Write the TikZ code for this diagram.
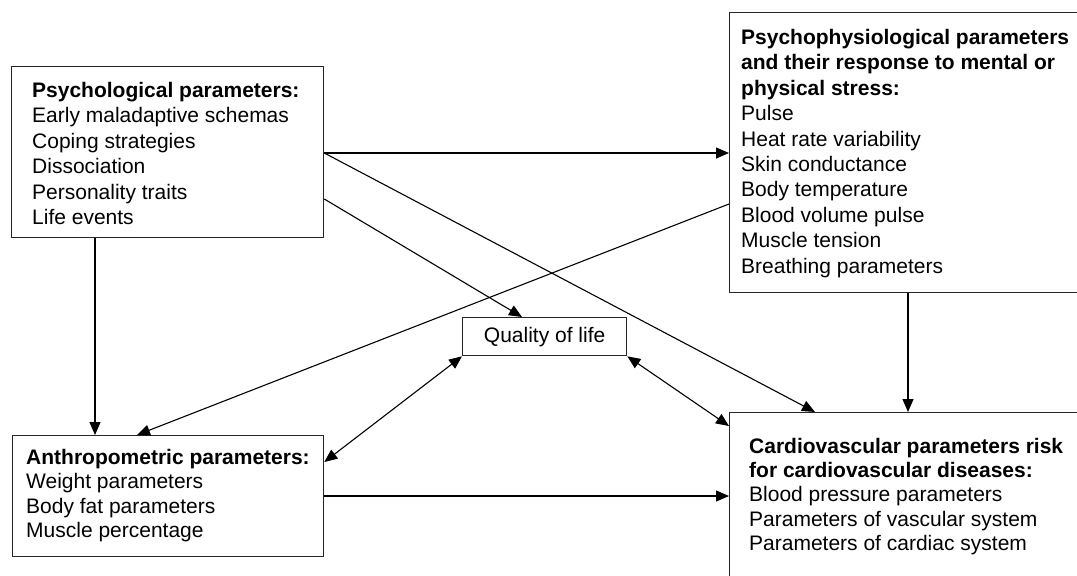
\documentclass[tikz,border=0pt]{standalone}
\usepackage{fontspec}
\setmainfont{Liberation Sans}
\usetikzlibrary{arrows.meta,calc}
\begin{document}
\begin{tikzpicture}[x=1pt,y=-1pt,
  box/.style={draw=black!85, line width=1.3pt, inner sep=0pt, anchor=north west},
  txt/.style={anchor=north west, inner sep=0pt, align=left, font=\fontsize{21}{25.4}\selectfont},
  tip/.style={Triangle[length=13pt,width=11pt]},
  conn/.style={line width=1.1pt, -{Triangle[length=13pt,width=11pt]}},
  biconn/.style={line width=1.1pt, {Triangle[length=13pt,width=11pt]}-{Triangle[length=13pt,width=11pt]}}]
\useasboundingbox (0,0) rectangle (1077,576);
\clip (0,0) rectangle (1077,576);
\fill[white] (0,0) rectangle (1077,576);

% boxes
\node[box, minimum width=312pt, minimum height=171pt] (psy) at (11,66) {};
\node[box, minimum width=400pt, minimum height=280pt] (phys) at (729,12) {};
\node[box, minimum width=164pt, minimum height=38pt] (qol) at (462,317) {};
\node[box, minimum width=311pt, minimum height=121pt] (anthro) at (12,435) {};
\node[box, minimum width=400pt, minimum height=200pt] (cardio) at (729,412) {};

% texts
\node[txt] (psyT) at (32,82) {\textbf{Psychological parameters:}\\Early maladaptive schemas\\Coping strategies\\Dissociation\\Personality traits\\Life events};
\node[txt] (physT) at (741,29) {\textbf{Psychophysiological parameters}\\\textbf{and their response to mental or}\\\textbf{physical stress:}\\Pulse\\Heat rate variability\\Skin conductance\\Body temperature\\Blood volume pulse\\Muscle tension\\Breathing parameters};
\node[font=\fontsize{21}{25.4}\selectfont, inner sep=0pt] (qolT) at (qol.center) {Quality of life};
\node[txt, font=\fontsize{21}{24.5}\selectfont] (anthroT) at (26,449) {\textbf{Anthropometric parameters:}\\Weight parameters\\Body fat parameters\\Muscle percentage};
\node[txt, font=\fontsize{21}{24.2}\selectfont] (cardioT) at (749,438) {\textbf{Cardiovascular parameters risk}\\\textbf{for cardiovascular diseases:}\\Blood pressure parameters\\Parameters of vascular system\\Parameters of cardiac system};

% connectors
\draw[conn] ($(psy.north east)+(0,87)$) -- ($(phys.north west)+(0,141)$);
\draw[conn] ($(psy.north east)+(0,87)$) -- ($(cardio.north west)+(86,0)$);
\draw[conn] ($(psy.north east)+(0,133)$) -- ($(qol.north west)+(60,0)$);
\draw[conn] ($(phys.north west)+(0,192)$) -- ($(anthro.north west)+(125,0)$);
\draw[conn] ($(psy.south west)+(84,0)$) -- ($(anthro.north west)+(83,0)$);
\draw[conn] ($(phys.south west)+(179,0)$) -- ($(cardio.north west)+(179,0)$);
\draw[biconn] (qol.south west) -- ($(anthro.north east)+(0,27)$);
\draw[biconn] (qol.south east) -- ($(cardio.north west)+(0,14)$);
\draw[conn] ($(anthro.north east)+(0,61)$) -- ($(cardio.north west)+(0,84)$);
\end{tikzpicture}
\end{document}
